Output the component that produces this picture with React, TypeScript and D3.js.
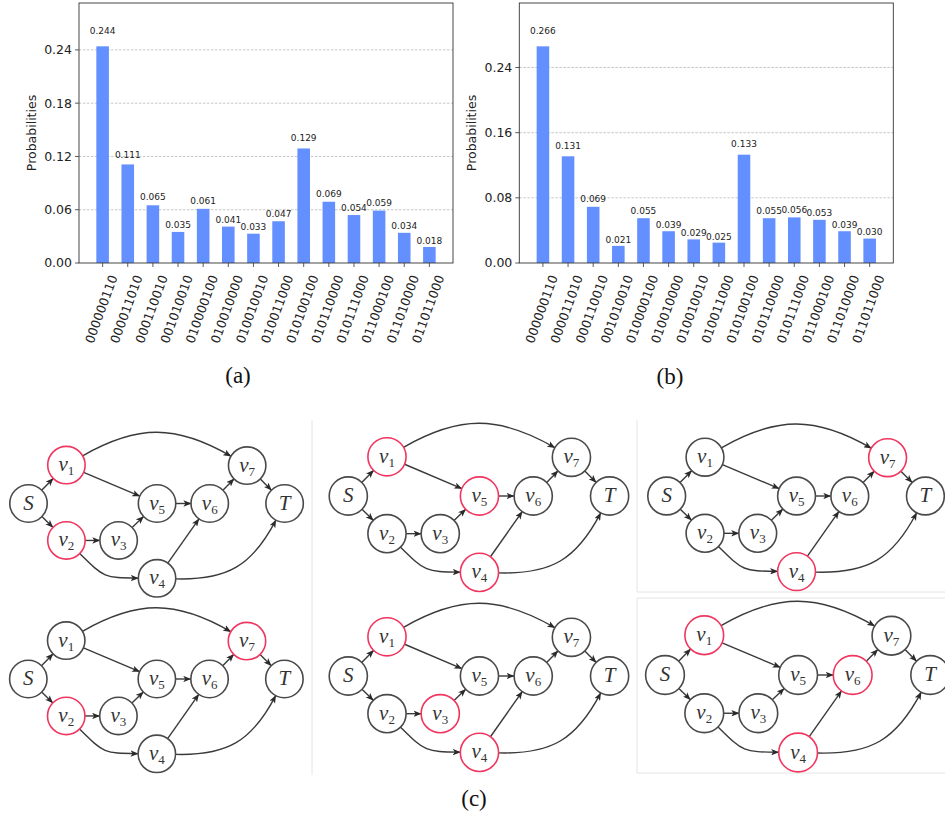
import React from "react";
import * as d3 from "d3";

// measured bitstrings (same order in both histograms)
const states = [
  "000000110", "000011010", "000110010", "001010010", "010000100", "010010000", "010010010",
  "010011000", "010100100", "010110000", "010111000", "011000100", "011010000", "011011000",
];
const probsA = [0.244, 0.111, 0.065, 0.035, 0.061, 0.041, 0.033, 0.047, 0.129, 0.069, 0.054, 0.059, 0.034, 0.018];
const probsB = [0.266, 0.131, 0.069, 0.021, 0.055, 0.039, 0.029, 0.025, 0.133, 0.055, 0.056, 0.053, 0.039, 0.030];
const ticksA = [0, 0.06, 0.12, 0.18, 0.24];
const ticksB = [0, 0.08, 0.16, 0.24];

// graph
const nodeNames = ["S", "v1", "v2", "v3", "v4", "v5", "v6", "v7", "T"];
const edges: [string, string, number][] = [
  ["S", "v1", 0], ["S", "v2", 0], ["v1", "v5", 0], ["v1", "v7", -30], ["v2", "v3", 0],
  ["v2", "v4", 22], ["v3", "v5", 0], ["v4", "v6", 0], ["v4", "T", 32], ["v5", "v6", 0],
  ["v6", "v7", 0], ["v7", "T", 0],
];
const highlighted = [
  ["v1", "v2"], ["v1", "v5", "v4"], ["v7", "v4"],
  ["v2", "v7"], ["v1", "v3", "v4"], ["v1", "v6", "v4"],
];

// node layout relative to S
const layout: Record<string, [number, number]> = {
  S: [0, 0], v1: [38.5, -39], v2: [38.5, 37.5], v3: [91.5, 37.5], v4: [130.5, 76],
  v5: [130.5, 0], v6: [184, 0], v7: [222, -38.5], T: [260, 0],
};
const panels = [
  { x: 28.5, y: 503.5, k: 0.985 }, { x: 348.3, y: 496, k: 1.005 }, { x: 666.7, y: 496, k: 0.995 },
  { x: 28.3, y: 679, k: 0.985 }, { x: 348.3, y: 676, k: 1.005 }, { x: 665, y: 675, k: 1.02 },
];

const BLUE = "#648fff";
const RED = "#f0365f";

function Histogram({ left, values, ticks }: { left: number; values: number[]; ticks: number[] }) {
  const top = 3, bottom = 263, width = 374;
  const x = d3.scaleBand<string>().domain(states).range([left, left + width]).paddingInner(0.5).paddingOuter(0.69);
  const y = d3.scaleLinear().domain([0, (d3.max(values) as number) * 1.2]).range([bottom, top]);
  const fmt = d3.format(".2f");
  return (
    <g fontFamily="DejaVu Sans, sans-serif">
      {ticks.filter(t => t > 0).map(t => (
        <line key={"g" + t} x1={left} x2={left + width} y1={y(t)} y2={y(t)}
          stroke="#b8b8b8" strokeWidth={0.8} strokeDasharray="2.5,1.5" />
      ))}
      {states.map((s, i) => (
        <g key={s}>
          <rect x={x(s)} y={y(values[i])} width={x.bandwidth()} height={bottom - y(values[i])} fill={BLUE} />
          <text x={(x(s) as number) + x.bandwidth() / 2} y={y(values[i] * 1.05) - 2} fontSize={9}
            textAnchor="middle" fill="#222">{values[i].toFixed(3)}</text>
          <line x1={(x(s) as number) + x.bandwidth() / 2} x2={(x(s) as number) + x.bandwidth() / 2}
            y1={bottom} y2={bottom + 4} stroke="#333" strokeWidth={0.8} />
          <text transform={`translate(${(x(s) as number) + x.bandwidth() / 2 + 15},${bottom + 14}) rotate(-70)`}
            fontSize={12.5} textAnchor="end" fill="#222">{s}</text>
        </g>
      ))}
      {ticks.map(t => (
        <g key={"t" + t}>
          <line x1={left - 4} x2={left} y1={y(t)} y2={y(t)} stroke="#333" strokeWidth={0.8} />
          <text x={left - 7} y={y(t)} dy="0.35em" fontSize={12.5} textAnchor="end" fill="#222">{fmt(t)}</text>
        </g>
      ))}
      <rect x={left} y={top} width={width} height={bottom - top} fill="none" stroke="#333" strokeWidth={0.9} />
      <text transform={`translate(${left - 43},${(top + bottom) / 2}) rotate(-90)`} fontSize={12.5}
        textAnchor="middle" fill="#222">Probabilities</text>
    </g>
  );
}

function edgePath(a: [number, number], b: [number, number], r: number, bend: number) {
  const phi = Math.atan2(b[1] - a[1], b[0] - a[0]);
  const dist = Math.hypot(b[0] - a[0], b[1] - a[1]);
  const th = (bend * Math.PI) / 180;
  const out = phi + th;
  const inn = phi + Math.PI - th;
  const p0 = [a[0] + r * Math.cos(out), a[1] + r * Math.sin(out)];
  const p3 = [b[0] + r * Math.cos(inn), b[1] + r * Math.sin(inn)];
  if (bend === 0) return `M${p0[0]},${p0[1]}L${p3[0]},${p3[1]}`;
  const d = 0.35 * dist;
  const p1 = [p0[0] + d * Math.cos(out), p0[1] + d * Math.sin(out)];
  const p2 = [p3[0] + d * Math.cos(inn), p3[1] + d * Math.sin(inn)];
  const path = d3.path();
  path.moveTo(p0[0], p0[1]);
  path.bezierCurveTo(p1[0], p1[1], p2[0], p2[1], p3[0], p3[1]);
  return path.toString();
}

function Graph({ x0, y0, k, red }: { x0: number; y0: number; k: number; red: string[] }) {
  const r = 19 * k;
  const pos = (n: string): [number, number] => [x0 + layout[n][0] * k, y0 + layout[n][1] * k];
  return (
    <g>
      {edges.map(([s, t, b]) => (
        <path key={s + t} d={edgePath(pos(s), pos(t), r, b)} fill="none" stroke="#3a3a3a"
          strokeWidth={1.4} markerEnd="url(#arr)" />
      ))}
      {nodeNames.map(n => {
        const [cx, cy] = pos(n);
        return (
          <g key={n}>
            <circle cx={cx} cy={cy} r={r} fill="#fff" stroke={red.includes(n) ? RED : "#4a4a4a"} strokeWidth={1.6} />
            <text x={cx} y={cy + 6} textAnchor="middle" fontFamily="Liberation Serif, serif" fontStyle="italic"
              fontSize={21} fill="#333">
              {n[0]}
              {n.length > 1 && <tspan dy={4} fontSize={13} fontStyle="normal">{n.slice(1)}</tspan>}
            </text>
          </g>
        );
      })}
    </g>
  );
}

export default function App() {
  const frame = "#e4e4e4";
  return (
    <svg width={945} height={818} style={{ position: "absolute", left: 0, top: 0, background: "#fff" }}>
      <defs>
        <marker id="arr" viewBox="0 0 10 8" refX={9.5} refY={4} markerWidth={8} markerHeight={6.4}
          orient="auto" markerUnits="userSpaceOnUse">
          <path d="M0,0 L10,4 L0,8 L2.5,4 Z" fill="#2a2a2a" />
        </marker>
      </defs>
      <Histogram left={79} values={probsA} ticks={ticksA} />
      <Histogram left={519.3} values={probsB} ticks={ticksB} />
      <g fontFamily="Liberation Serif, serif" fontSize={23} fill="#111" textAnchor="middle">
        <text x={238} y={383}>(a)</text>
        <text x={670} y={384}>(b)</text>
        <text x={474} y={806}>(c)</text>
      </g>
      <g stroke={frame} strokeWidth={1} fill="none">
        <line x1={312} x2={312} y1={420} y2={775} />
        <path d="M637,420 V592 H945" />
        <path d="M945,598 H637 V773 H945" />
      </g>
      {panels.map((p, i) => (
        <Graph key={i} x0={p.x} y0={p.y} k={p.k} red={highlighted[i]} />
      ))}
    </svg>
  );
}
